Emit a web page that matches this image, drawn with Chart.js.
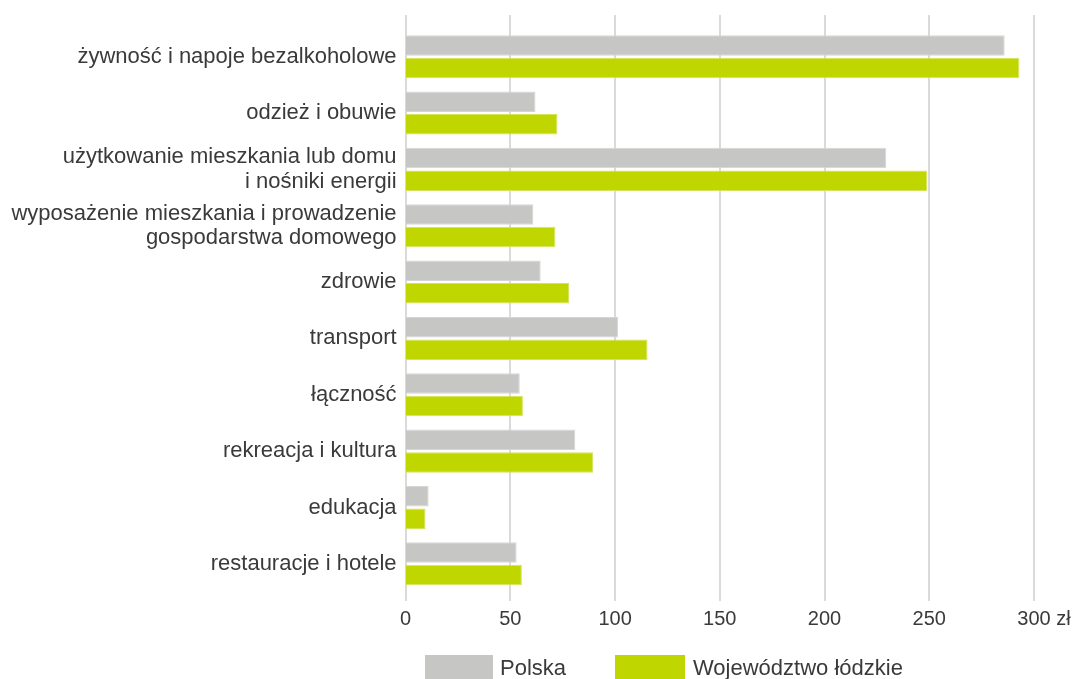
<!DOCTYPE html>
<html>
<head>
<meta charset="utf-8">
<script src="https://cdn.jsdelivr.net/npm/chart.js@4/dist/chart.umd.min.js"></script>
<style>
html,body{margin:0;padding:0;background:#fff;}
#wrap{width:1075px;height:679px;position:relative;}
</style>
</head>
<body>
<div id="wrap"><canvas id="c" width="1075" height="679"></canvas></div>
<script>
const categories = [
  "żywność i napoje bezalkoholowe",
  "odzież i obuwie",
  ["użytkowanie mieszkania lub domu", "i nośniki energii"],
  ["wyposażenie mieszkania i prowadzenie", "gospodarstwa domowego"],
  "zdrowie",
  "transport",
  "łączność",
  "rekreacja i kultura",
  "edukacja",
  "restauracje i hotele"
];
const seriesNames = ["Polska", "Województwo łódzkie"];
const polska = [286, 62, 229.5, 61, 64.5, 101.5, 54.5, 81, 11, 53];
const lodzkie = [293, 72.5, 249, 71.5, 78, 115.5, 56, 89.5, 9.5, 55.5];
const xTicks = [0, 50, 100, 150, 200, 250, 300];
const unitLabel = "zł";

const GRAY = "#c6c7c5";
const GREEN = "#bfd600";
const TEXT = "#3a3a3a";
const TICK_SIZE = 20;
const TICK_FAMILY = '"Liberation Sans", Arial, sans-serif';
const TICK_PAD = 15;

const gridPlugin = {
  id: "extGrid",
  beforeDatasetsDraw(chart) {
    const ctx = chart.ctx, xs = chart.scales.x;
    ctx.save();
    ctx.strokeStyle = "#dadada";
    ctx.lineWidth = 2;
    xs.ticks.forEach(t => {
      const x = Math.round(xs.getPixelForValue(t.value));
      ctx.beginPath();
      ctx.moveTo(x, 15);
      ctx.lineTo(x, 601);
      ctx.stroke();
    });
    ctx.restore();
  },
  afterDraw(chart) {
    const ctx = chart.ctx, xs = chart.scales.x;
    ctx.save();
    const last = xTicks[xTicks.length - 1];
    ctx.font = TICK_SIZE + "px " + TICK_FAMILY;
    const w = ctx.measureText(String(last)).width;
    const px = xs.getPixelForValue(last);
    const ty = xs.top + TICK_PAD + TICK_SIZE * 1.2 / 2;
    ctx.fillStyle = TEXT;
    ctx.textBaseline = "middle";
    ctx.textAlign = "left";
    ctx.fillText(" " + unitLabel, px + w / 2, ty);
    // legend
    ctx.font = '22px "Liberation Sans", Arial, sans-serif';
    const boxes = [
      {box: 425, bw: 68, tx: 500},
      {box: 615, bw: 70, tx: 693}
    ];
    chart.data.datasets.forEach((ds, i) => {
      const it = boxes[i];
      ctx.fillStyle = ds.backgroundColor;
      ctx.fillRect(it.box, 655, it.bw, 26);
      ctx.fillStyle = TEXT;
      ctx.fillText(ds.label, it.tx, 669);
    });
    ctx.restore();
  }
};

new Chart(document.getElementById("c"), {
  type: "bar",
  data: {
    labels: categories,
    datasets: [
      {label: seriesNames[0], data: polska, backgroundColor: GRAY, borderColor: "#d5d6d4", borderWidth: 1},
      {label: seriesNames[1], data: lodzkie, backgroundColor: GREEN, borderColor: "#d3e35c", borderWidth: 1}
    ]
  },
  plugins: [gridPlugin],
  options: {
    indexAxis: "y",
    responsive: false,
    animation: false,
    devicePixelRatio: 1,
    categoryPercentage: 0.8,
    barPercentage: 0.91,
    layout: {padding: {left: 0, right: 41, top: 28.5, bottom: 33}},
    plugins: {legend: {display: false}, tooltip: {enabled: false}},
    scales: {
      x: {
        min: 0, max: 300,
        afterBuildTicks(scale) { scale.ticks = xTicks.map(v => ({value: v})); },
        grid: {display: false, drawTicks: false},
        border: {display: false},
        ticks: {
          padding: TICK_PAD,
          color: TEXT,
          font: {family: TICK_FAMILY, size: TICK_SIZE},
          maxRotation: 0,
          callback: v => String(v)
        }
      },
      y: {
        grid: {display: false, drawTicks: false},
        border: {display: false},
        afterFit(scale) { scale.width = 405.6; },
        ticks: {
          padding: 9,
          color: TEXT,
          font: {family: '"Liberation Sans", Arial, sans-serif', size: 22, lineHeight: 1.1}
        }
      }
    }
  }
});
</script>
</body>
</html>
